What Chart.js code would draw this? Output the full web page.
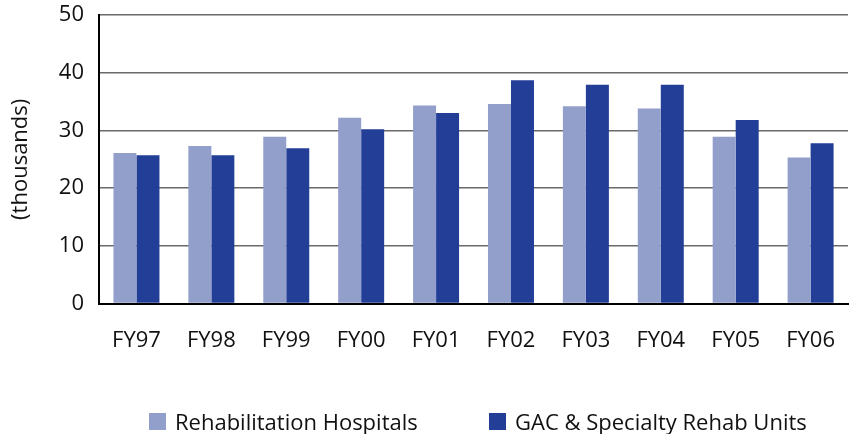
<!DOCTYPE html>
<html>
<head>
<meta charset="utf-8">
<script src="https://cdn.jsdelivr.net/npm/chart.js@4.4.1/dist/chart.umd.min.js"></script>
<style>
  html, body { margin: 0; padding: 0; background: #fff; }
  #wrap { position: relative; width: 859px; height: 434px; }
  #legend { position: absolute; left: 0; top: 408px; height: 26px; width: 859px;
            font-family: "Open Sans", sans-serif; font-size: 22px; color: #111; }
  .item { position: absolute; top: 0; height: 26px; display: flex; align-items: center; white-space: nowrap; }
  .sw { width: 17px; height: 17px; margin-right: 9px; display: inline-block; }
</style>
</head>
<body>
<div id="wrap">
  <canvas id="c" width="859" height="434"></canvas>
  <div id="legend"></div>
</div>
<script>
const categories = ["FY97","FY98","FY99","FY00","FY01","FY02","FY03","FY04","FY05","FY06"];
const rehabHospitals = [26.1, 27.3, 28.9, 32.2, 34.3, 34.6, 34.2, 33.8, 28.9, 25.3];
const gacRehabUnits  = [25.7, 25.7, 26.9, 30.2, 33.0, 38.7, 37.9, 37.9, 31.8, 27.8];
const seriesNames = ["Rehabilitation Hospitals", "GAC & Specialty Rehab Units"];
const seriesColors = ["#929fcb", "#223e97"];
const yTicks = [0, 10, 20, 30, 40, 50];
const yTitle = "(thousands)";

const FONT = '"Open Sans", sans-serif';

new Chart(document.getElementById('c'), {
  type: 'bar',
  data: {
    labels: categories,
    datasets: [
      { label: seriesNames[0], data: rehabHospitals, backgroundColor: seriesColors[0] },
      { label: seriesNames[1], data: gacRehabUnits, backgroundColor: seriesColors[1] }
    ]
  },
  options: {
    responsive: false,
    animation: false,
    devicePixelRatio: 1,
    datasets: { bar: { categoryPercentage: 0.614, barPercentage: 1.0 } },
    layout: { padding: { top: 15, right: 0, bottom: 56, left: 0 } },
    plugins: { legend: { display: false }, tooltip: { enabled: false } },
    scales: {
      x: {
        grid: { display: false, drawTicks: false },
        border: { display: true, color: '#000', width: 2 },
        ticks: { color: '#111', font: { family: FONT, size: 22 }, padding: 24, maxRotation: 0 }
      },
      y: {
        min: yTicks[0], max: yTicks[yTicks.length - 1],
        afterFit(scale) { scale.width = 99; },
        afterBuildTicks(scale) { scale.ticks = yTicks.map(v => ({ value: v })); },
        grid: { color: '#6a6a6a', lineWidth: 1.5, drawTicks: true, tickLength: 15, tickColor: 'rgba(0,0,0,0)' },
        border: { display: true, color: '#000', width: 2 },
        ticks: { color: '#111', font: { family: FONT, size: 22 }, padding: 0 },
        title: { display: true, text: yTitle, color: '#111', font: { family: FONT, size: 22 }, padding: { top: 8, bottom: 0 } }
      }
    }
  }
});

// HTML legend built from series arrays
const legendPositions = [149, 489];
const lg = document.getElementById('legend');
seriesNames.forEach((name, i) => {
  const it = document.createElement('div');
  it.className = 'item';
  it.style.left = legendPositions[i] + 'px';
  const sw = document.createElement('span');
  sw.className = 'sw';
  sw.style.background = seriesColors[i];
  const tx = document.createElement('span');
  tx.textContent = name;
  it.appendChild(sw); it.appendChild(tx);
  lg.appendChild(it);
});
</script>
</body>
</html>
